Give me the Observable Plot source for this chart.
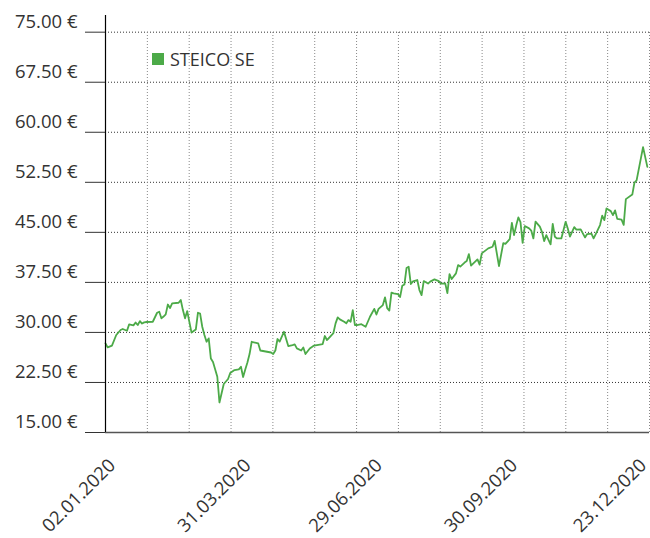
<!DOCTYPE html>
<html>
<head>
<meta charset="utf-8">
<script src="https://cdn.jsdelivr.net/npm/d3@7"></script>
<script src="https://cdn.jsdelivr.net/npm/@observablehq/plot@0.6"></script>
<style>
  html, body { margin: 0; padding: 0; background: #fff; }
  #wrap { position: relative; width: 650px; height: 538px; font-family: "Open Sans", sans-serif; color: #333; overflow: hidden; }
  #legend { position: absolute; left: 152px; top: 47px; display: flex; align-items: center; font-size: 18px; color: #333; }
  #legend .sw { width: 12px; height: 12px; background: #4caa48; margin-right: 6px; }
</style>
</head>
<body>
<div id="wrap">
  <div id="chart"></div>
  <div id="legend"><span class="sw"></span><span>STEICO SE</span></div>
</div>
<script>
// Trading-day index (0 = 02.01.2020) and closing price in EUR
const days = [0,1,3,5,7,8,10,11,13,14,15,16,17,18,19,22,24,25,26,27,28,29,30,31,34,35,36,37,38,40,42,43,44,45,46,47,48,49,50,52,53,55,57,58,60,62,63,64,65,66,67,68,71,72,77,78,79,80,81,83,85,87,88,89,91,92,93,95,97,101,102,103,106,107,108,109,111,112,113,114,115,116,117,119,121,123,125,126,127,129,130,131,132,133,134,136,137,138,139,140,141,142,143,145,146,147,148,150,151,153,155,156,158,159,160,161,163,164,165,167,168,169,170,173,174,175,178,180,181,183,185,186,188,189,190,191,192,193,194,195,197,198,199,200,202,203,204,205,207,208,209,210,212,214,215,216,218,219,221,223,224,226,227,228,230,231,232,233,235,236,237,238,240,241,242,245,246,247,250,252];
const prices = [28.36,27.76,28.03,29.61,30.36,30.51,30.25,31.21,31.06,31.48,31.11,31.70,31.33,31.51,31.56,31.60,32.95,33.10,32.11,32.38,32.71,34.18,33.65,34.36,34.45,34.85,33.35,32.11,33.20,29.98,30.43,32.95,32.83,30.85,29.61,28.60,29.11,26.09,25.56,23.36,19.50,22.27,23.02,23.92,24.36,24.47,24.86,23.32,24.44,25.49,26.76,28.60,28.36,27.29,26.99,26.76,27.29,29.01,28.63,30.10,27.96,28.10,28.20,27.61,27.29,27.74,26.76,27.59,28.03,28.26,29.46,28.86,29.91,31.36,32.26,31.96,31.60,31.36,31.85,31.60,33.35,31.11,31.11,31.23,30.85,32.35,33.53,32.68,33.53,34.10,35.26,33.65,33.28,35.97,35.85,35.75,35.30,36.98,37.17,39.65,39.84,37.25,37.65,37.85,36.35,35.60,37.70,37.32,37.62,37.95,37.70,37.32,37.35,35.90,38.75,38.00,38.85,40.09,39.87,40.47,40.69,41.74,40.02,40.95,40.17,41.85,42.60,42.84,43.73,39.94,43.39,43.27,43.99,46.43,44.59,46.01,47.24,46.54,43.43,45.94,45.59,45.26,44.09,46.61,45.86,45.08,43.69,44.59,43.21,46.28,44.33,44.09,44.09,46.58,45.59,44.36,45.79,45.40,45.44,44.24,44.74,44.81,44.09,44.74,46.09,47.51,46.84,48.59,48.18,47.58,48.29,47.02,46.91,46.13,49.98,50.66,52.45,52.78,57.77,54.82];

const lastDay = 253;                       // last trading-day index of the axis
const yTicks = [15, 22.5, 30, 37.5, 45, 52.5, 60, 67.5, 75];
const yMax = 77.5;
const xTickDays = [0, 63, 124, 187, 247];
const xTickLabels = ["02.01.2020", "31.03.2020", "29.06.2020", "30.09.2020", "23.12.2020"];
const gridCount = 13;                      // vertical grid divisions

const series = days.map((d, i) => ({day: d, price: prices[i]}));
const gridDays = d3.range(gridCount + 1).map(k => k * lastDay / gridCount);
const green = "#4caa48";

const chart = Plot.plot({
  width: 650,
  height: 538,
  marginLeft: 105,
  marginRight: 1,
  marginTop: 15,
  marginBottom: 106,
  style: {fontFamily: "'Open Sans', sans-serif", color: "#333", background: "transparent"},
  x: {type: "linear", domain: [0, lastDay], axis: null},
  y: {domain: [15, yMax], axis: null},
  marks: [
    Plot.ruleY(yTicks.slice(1), {stroke: "#333", strokeDasharray: "1,2", strokeWidth: 1}),
    Plot.ruleX(gridDays.slice(1), {y1: 15, y2: 75, stroke: "#888", strokeDasharray: "1,2", strokeWidth: 1}),
    Plot.line(series, {x: "day", y: "price", stroke: green, strokeWidth: 1.8, curve: "linear"}),
    Plot.axisY(yTicks, {tickSize: 20, stroke: "#333", tickFormat: () => "", label: null}),
    Plot.axisY(yTicks, {tickSize: 0, tickPadding: 28, fontSize: 18.5, dy: -10, tickFormat: d => d.toFixed(2) + " €", label: null}),
    Plot.ruleY([15], {stroke: "#555", strokeWidth: 1.5}),
    Plot.ruleX([0], {stroke: "#000", strokeWidth: 1.2}),
    Plot.text(xTickDays, {x: d => d, text: (d, i) => xTickLabels[i], frameAnchor: "bottom", rotate: -45, textAnchor: "end", dx: 11, dy: 34, fontSize: 18.5, fill: "#333"})
  ]
});
document.getElementById("chart").appendChild(chart);
</script>
</body>
</html>
